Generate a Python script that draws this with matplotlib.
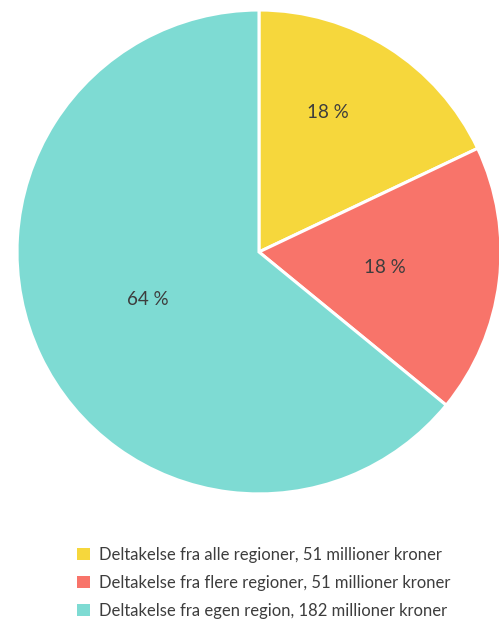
import matplotlib.pyplot as plt
import numpy as np
from matplotlib.patches import Patch

# values in millions NOK
labels = [
    "Deltakelse fra alle regioner, 51 millioner kroner",
    "Deltakelse fra flere regioner, 51 millioner kroner",
    "Deltakelse fra egen region, 182 millioner kroner",
]
values = [51, 51, 182]
colors = ["#F6D73C", "#F8746A", "#7EDBD3"]
label_dist = [0.645, 0.525, 0.50]
label_shift = [6, 0, -2]  # degrees

plt.rcParams['font.family'] = ['Lato', 'DejaVu Sans']
text_color = "#3d3d3d"

fig = plt.figure(figsize=(4.99, 6.26), dpi=100)
ax = fig.add_axes([0.034, 0.211, 0.970, 0.773])

wedges, _ = ax.pie(values, colors=colors, startangle=90, counterclock=False,
                   wedgeprops=dict(edgecolor="white", linewidth=2.2))

total = sum(values)
for w, v, d, s in zip(wedges, values, label_dist, label_shift):
    mid = np.deg2rad((w.theta1 + w.theta2) / 2 + s)
    ax.text(d * np.cos(mid), d * np.sin(mid), f"{round(100 * v / total)} %",
            ha="center", va="center", fontsize=13.5, color=text_color)

ax.set_xlim(-1, 1)
ax.set_ylim(-1, 1)
ax.set_aspect("equal")
ax.axis("off")

handles = [Patch(facecolor=c, edgecolor="none") for c in colors]
fig.legend(handles, labels, loc="upper left", bbox_to_anchor=(0.125, 0.15),
           frameon=False, fontsize=12, handlelength=0.75, handleheight=0.75,
           handletextpad=0.55, labelspacing=0.72, labelcolor=text_color)

fig.savefig("out.png", dpi=100)
